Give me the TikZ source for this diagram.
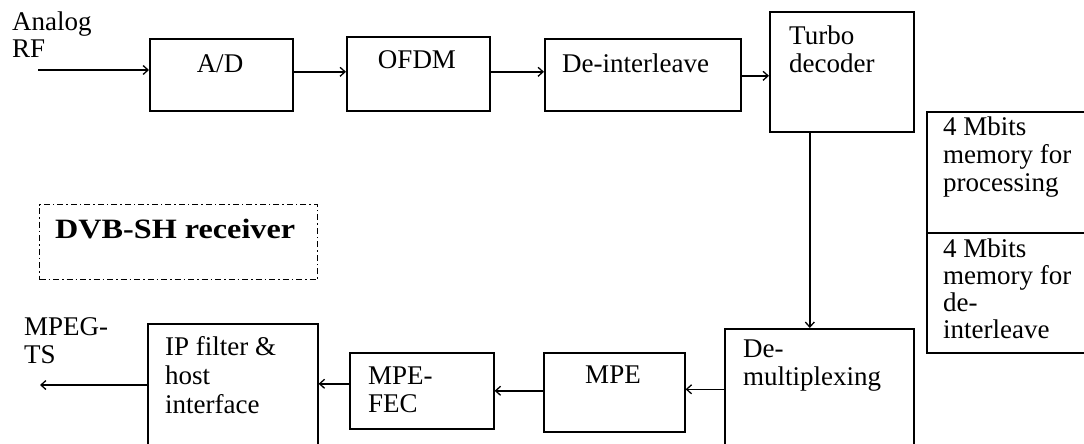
\documentclass[tikz,border=0pt]{standalone}
\usepackage{fontspec}
\setmainfont{Liberation Serif}
\usetikzlibrary{arrows.meta}
\begin{document}
\begin{tikzpicture}[x=1pt,y=-1pt,
  box/.style={draw, line width=1.6pt, rectangle, inner sep=0pt, anchor=north west},
  arr/.style={draw, line width=1.5pt, -{Straight Barb[length=5pt,width=9pt,line width=1.3pt]}},
  txt/.style={inner sep=0pt, anchor=base west, align=left, font=\fontsize{27}{28}\selectfont},
  ctxt/.style={txt, anchor=base, align=center}]
\useasboundingbox[fill=white] (0,0) rectangle (1084,444);

% processing blocks
\node[box, minimum width=143pt, minimum height=72pt]  (ad)     at (149,38)  {};
\node[box, minimum width=143pt, minimum height=74pt]  (ofdm)   at (346,36)  {};
\node[box, minimum width=196pt, minimum height=72pt]  (dint)   at (544,38)  {};
\node[box, minimum width=144pt, minimum height=120pt] (turbo)  at (769,11)  {};
\node[box, minimum width=189pt, minimum height=132pt] (demux)  at (724,328) {};
\node[box, minimum width=141pt, minimum height=79pt]  (mpe)    at (543,352) {};
\node[box, minimum width=144pt, minimum height=76pt]  (mpefec) at (349,352) {};
\node[box, minimum width=170pt, minimum height=137pt] (ip)     at (147,323) {};

% memory blocks
\node[box, minimum width=170pt, minimum height=121pt] (mema) at (926,111) {};
\node[box, line width=2pt, minimum width=170pt, minimum height=120pt] (memb) at (926,232) {};

% receiver label frame
\node[box, line width=1.1pt, dash pattern=on 6pt off 3pt on 1.5pt off 3pt,
      minimum width=278pt, minimum height=75pt] (dvb) at (39,204) {};

% texts (multi-line nodes sit on the baseline of their last line)
\node[txt]  (tin)   at (12,58)   {Analog\\RF};
\node[ctxt] (tad)   at (220,72)  {A/D};
\node[ctxt] (tofdm) at (417,68)  {OFDM};
\node[txt]  (tdint) at (562,72)  {De-interleave};
\node[txt]  (tturb) at (789,72)  {Turbo\\decoder};
\node[txt, font=\fontsize{28}{28}\selectfont\bfseries] (tdvb) at (55,238) {\scalebox{1.15}[1]{DVB-SH receiver}};
\node[txt]  (tmema) at (943,191) {4 Mbits\\memory for\\processing};
\node[txt, font=\fontsize{27}{27}\selectfont] (tmemb) at (943,338) {4 Mbits\\memory for\\de-\\interleave};
\node[txt]  (tdmx)  at (743,385) {De-\\multiplexing};
\node[ctxt] (tmpe)  at (613,383) {MPE};
\node[txt]  (tfec)  at (368,412) {MPE-\\FEC};
\node[txt, font=\fontsize{27}{29}\selectfont]  (tip)   at (165,413) {IP filter \&\\host\\interface};
\node[txt]  (tout)  at (24,363)  {MPEG-\\TS};

% connectors
\coordinate (rfin) at (38,70);
\coordinate (tsout) at (40,385);
\draw[arr] (rfin) -- (rfin -| ad.west);
\draw[arr] ([yshift=3pt]ad.east) -- ([yshift=3pt]ad.east -| ofdm.west);
\draw[arr] ([yshift=2pt]ofdm.east) -- ([yshift=2pt]ofdm.east -| dint.west);
\draw[arr] ([yshift=-1pt]dint.east) -- ([yshift=-1pt]dint.east -| turbo.west);
\draw[arr] ([xshift=-32pt]turbo.south) -- ([xshift=-32pt]turbo.south |- demux.north);
\draw[arr] ([yshift=3pt]mpe.east -| demux.west) -- ([yshift=3pt]mpe.east);
\draw[arr] (mpefec.east -| mpe.west) -- (mpefec.east);
\draw[arr] ([yshift=7pt]mpefec.west) -- ([yshift=7pt]mpefec.west -| ip.east);
\draw[arr] (tsout -| ip.west) -- (tsout);
\end{tikzpicture}
\end{document}
